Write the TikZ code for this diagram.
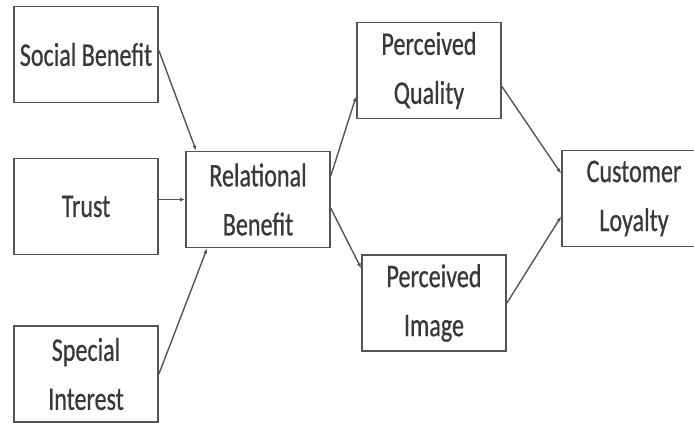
\documentclass[tikz,border=0pt]{standalone}
\usepackage{fontspec}
\setmainfont{Carlito}[FakeStretch=0.73, FakeBold=0.6]
\usetikzlibrary{arrows.meta}
\definecolor{boxgray}{HTML}{555555}
\definecolor{textgray}{HTML}{383838}
\begin{document}
\begin{tikzpicture}[x=1pt, y=-1pt,
    factor/.style={draw=boxgray, line width=1.8pt, minimum width=144pt,
      minimum height=96pt, align=center, text=textgray,
      font=\fontsize{33}{49}\selectfont, inner sep=0pt},
    link/.style={draw=boxgray, line width=1.4pt, -{Latex[length=5pt,width=4pt]}}]
  \useasboundingbox (0, 0) rectangle (694, 423);
  \node[factor] (SB) at (86, 54.5) {Social Benefit};
  \node[factor] (Trust) at (86, 206.5) {Trust};
  \node[factor] (SI) at (86, 374) {Special\\Interest};
  \node[factor] (RB) at (258, 199.5) {Relational\\Benefit};
  \node[factor] (PQ) at (429, 70.5) {Perceived\\Quality};
  \node[factor] (PI) at (434, 303) {Perceived\\Image};
  \node[factor] (CL) at (634, 198.5) {Customer\\Loyalty};
  \path[link] ([yshift=4pt]SB.east) -- ([xshift=11pt]RB.north west);
  \path[link] (Trust.east |- RB.west) -- (RB.west);
  \path[link] (SI.east) -- ([xshift=22pt]RB.south west);
  \path[link] ([yshift=24pt]RB.east) -- ([yshift=-26pt]PQ.west);
  \path[link] ([yshift=-9pt]RB.east) -- ([yshift=-14pt]PI.north west);
  \path[link] ([yshift=-16pt]PQ.east) -- ([yshift=25pt]CL.west);
  \path[link] (PI.east) -- ([yshift=-18pt]CL.west);
\end{tikzpicture}
\end{document}
